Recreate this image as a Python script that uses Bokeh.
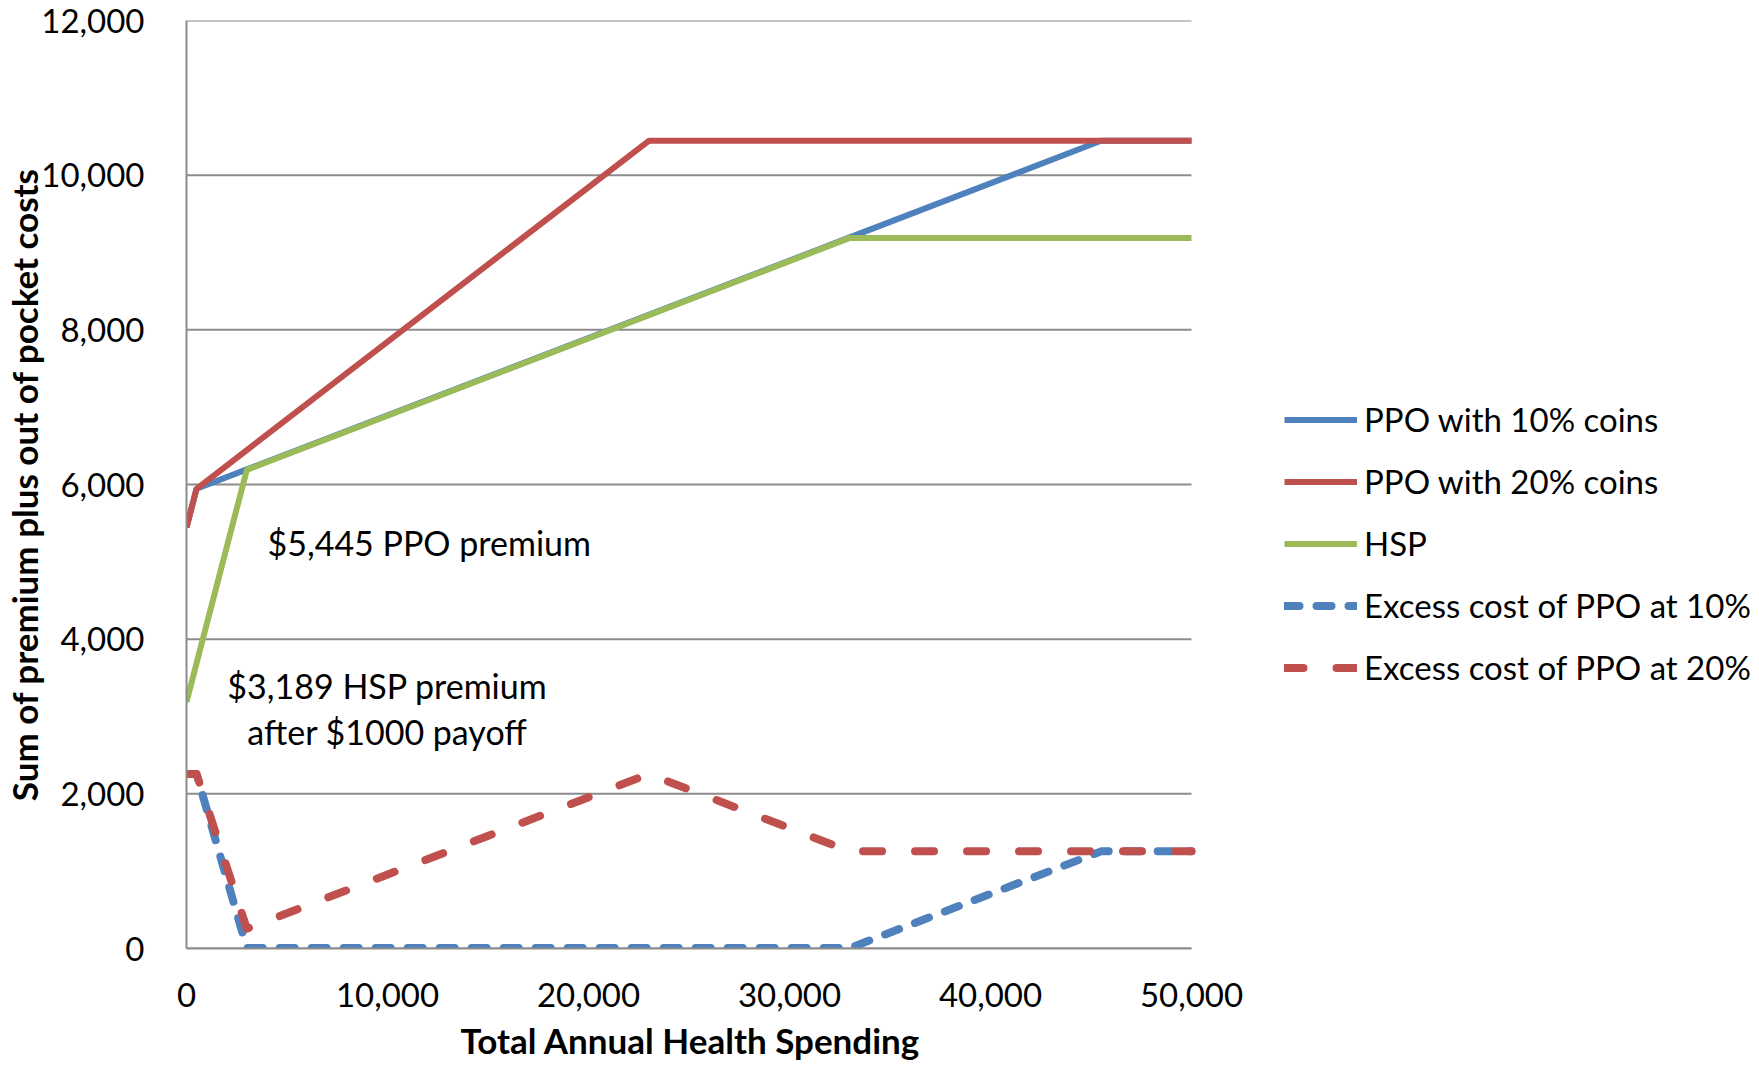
from bokeh.plotting import figure
from bokeh.models import (ColumnDataSource, Legend, LegendItem, Label, Title,
                          FixedTicker, NumeralTickFormatter, Range1d)
from bokeh.embed import file_html
from bokeh.resources import INLINE

# ---- data ----
spending = [0, 500, 3000, 23000, 33000, 45500, 50000]
ppo_10 = [5445, 5945, 6195, 8195, 9195, 10445, 10445]
ppo_20 = [5445, 5945, 6445, 10445, 10445, 10445, 10445]
hsp = [3189, 3689, 6189, 8189, 9189, 9189, 9189]
excess_10 = [2256, 2256, 6, 6, 6, 1256, 1256]
excess_20 = [2256, 2256, 256, 2256, 1256, 1256, 1256]

series_names = ["PPO with 10% coins", "PPO with 20% coins", "HSP",
                "Excess cost of PPO at 10%", "Excess cost of PPO at 20%"]
y_ticks = [0, 2000, 4000, 6000, 8000, 10000, 12000]
x_ticks = [0, 10000, 20000, 30000, 40000, 50000]
X_MIN, X_MAX = 0, 50000
Y_MIN, Y_MAX = 0, 12000

BLUE = "#4F81BD"
RED = "#C0504D"
GREEN = "#9BBB59"
GRID = "#8C8C8C"
FONT = "Lato"

src = ColumnDataSource(dict(x=spending, p10=ppo_10, p20=ppo_20, hsp=hsp,
                            e10=excess_10, e20=excess_20))

W, H = 1759, 1069
LEFT, TOP, BOTTOM_Y = 186, 20, 948
FRAME_W = W - LEFT
DATA_W = 1005  # pixels spanned by 0..50000
x_view_max = X_MAX * FRAME_W / DATA_W

p = figure(width=W, height=H, output_backend="svg", toolbar_location=None,
           x_range=Range1d(X_MIN, x_view_max), y_range=Range1d(Y_MIN, Y_MAX),
           min_border_left=LEFT, min_border_right=0,
           min_border_top=TOP, min_border_bottom=H - BOTTOM_Y)
p.outline_line_color = None
p.background_fill_color = "white"
p.xgrid.grid_line_color = None
p.ygrid.grid_line_color = None

# horizontal gridlines spanning the data width only
p.segment(x0=[X_MIN] * len(y_ticks), x1=[X_MAX] * len(y_ticks),
          y0=y_ticks, y1=y_ticks, line_color=GRID, line_width=2)

# axes
for ax in (p.xaxis[0], p.yaxis[0]):
    ax.axis_line_color = GRID
    ax.axis_line_width = 2
    ax.major_tick_line_color = None
    ax.minor_tick_line_color = None
    ax.major_label_text_font = FONT
    ax.major_label_text_font_size = "33px"
    ax.major_label_text_color = "black"
    ax.axis_label_text_font = FONT
    ax.axis_label_text_font_style = "bold"
    ax.axis_label_text_font_size = "35px"
    ax.axis_label_text_color = "black"
    ax.formatter = NumeralTickFormatter(format="0,0")

p.xaxis.ticker = FixedTicker(ticks=x_ticks)
p.yaxis.ticker = FixedTicker(ticks=y_ticks)
p.xaxis.bounds = (X_MIN, X_MAX)
p.yaxis.axis_label = "Sum of premium plus out of pocket costs"
p.xaxis.major_label_standoff = 28
p.yaxis.major_label_standoff = 36
p.yaxis.axis_label_standoff = -7

# x-axis title, placed under the middle of the data span
p.add_layout(Title(text="Total Annual Health Spending", align="left",
                   offset=274, standoff=15,
                   text_font=FONT, text_font_size="35px",
                   text_font_style="bold", text_color="black"), "below")

# lines
r1 = p.line("x", "p10", source=src, line_color=BLUE, line_width=6)
r2 = p.line("x", "p20", source=src, line_color=RED, line_width=6)
r3 = p.line("x", "hsp", source=src, line_color=GREEN, line_width=6)
r4 = p.line("x", "e10", source=src, line_color=BLUE, line_width=8,
            line_dash="15 17", line_cap="round", line_join="round")
r5 = p.line("x", "e20", source=src, line_color=RED, line_width=8,
            line_dash="19 33", line_cap="round", line_join="round")

legend = Legend(items=[LegendItem(label=n, renderers=[r]) for n, r in
                       zip(series_names, [r1, r2, r3, r4, r5])],
                location=(1098, 261), orientation="vertical",
                glyph_width=73, glyph_height=39, label_height=39,
                label_standoff=7, spacing=22, padding=0, margin=0,
                border_line_color=None, background_fill_alpha=0,
                label_text_font=FONT, label_text_font_size="33px",
                label_text_color="black")
p.add_layout(legend, "center")

# annotations
ann_style = dict(text_font=FONT, text_font_size="34px",
                 text_baseline="middle", text_color="black")
p.add_layout(Label(x=4030, y=5250, text="$5,445 PPO premium",
                   text_align="left", **ann_style))
p.add_layout(Label(x=10000, y=3401, text="$3,189 HSP premium",
                   text_align="center", **ann_style))
p.add_layout(Label(x=10000, y=2806, text="after $1000 payoff",
                   text_align="center", **ann_style))

open("out.html", "w").write(file_html(p, INLINE))
